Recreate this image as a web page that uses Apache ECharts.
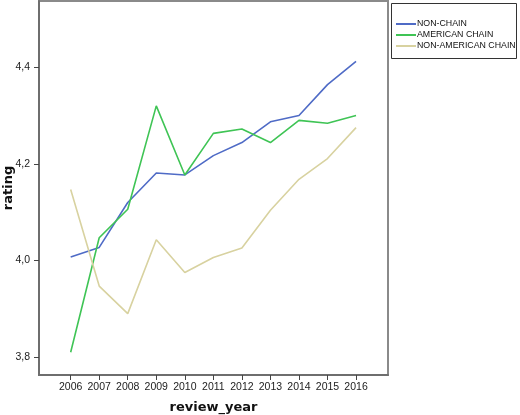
<!DOCTYPE html>
<html>
<head>
<meta charset="utf-8">
<script src="https://cdn.jsdelivr.net/npm/echarts@6/dist/echarts.min.js"></script>
<style>
  html, body { margin: 0; padding: 0; background: #fff; }
  #chart { width: 520px; height: 415px; }
</style>
</head>
<body>
<div id="chart"></div>
<script>
const years = [2006, 2007, 2008, 2009, 2010, 2011, 2012, 2013, 2014, 2015, 2016];
const nonChain = [4.007, 4.027, 4.120, 4.181, 4.177, 4.217, 4.244, 4.287, 4.300, 4.364, 4.412];
const americanChain = [3.810, 4.047, 4.106, 4.320, 4.177, 4.263, 4.272, 4.244, 4.290, 4.284, 4.300];
const nonAmericanChain = [4.147, 3.947, 3.890, 4.043, 3.975, 4.006, 4.026, 4.104, 4.168, 4.211, 4.275];
const yTicks = [3.8, 4.0, 4.2, 4.4];

const chart = echarts.init(document.getElementById('chart'));

// pair each value with its year for the value x axis
const pts = (vals) => vals.map((v, i) => [years[i], v]);

const sans = "'Liberation Sans', Arial, sans-serif";
const lineBase = { type: 'line', symbol: 'none', smooth: false, lineStyle: { width: 1.6 } };
const labelFont = { color: '#222', fontSize: 10.5, fontFamily: sans };
const frame = { show: true, lineStyle: { color: '#6e6e6e', width: 2 } };

chart.setOption({
  animation: false,
  grid: {
    left: 39, top: 1, right: 132, bottom: 40,
    outerBoundsMode: 'none', containLabel: false,
    show: true, borderColor: '#8a8a8a', borderWidth: 2
  },
  legend: {
    orient: 'vertical',
    left: 396,
    top: 19,
    padding: 0,
    itemGap: 1,
    itemWidth: 20,
    itemHeight: 2,
    icon: 'rect',
    textStyle: { fontSize: 8.8, lineHeight: 10, color: '#111', fontFamily: sans, padding: [0, 0, 0, -4] },
    data: ['NON-CHAIN', 'AMERICAN CHAIN', 'NON-AMERICAN CHAIN']
  },
  graphic: [
    { type: 'rect', shape: { x: 391.5, y: 3.5, width: 125, height: 55 }, style: { fill: '#fff', stroke: '#333', lineWidth: 1 }, z: -1 }
  ],
  xAxis: {
    type: 'value',
    min: 2004.89,
    max: 2017.12,
    name: 'review_year',
    nameLocation: 'middle',
    nameGap: 26,
    nameMoveOverlap: false,
    nameTextStyle: { fontSize: 13, fontWeight: 'bold', color: '#111', fontFamily: "'DejaVu Sans', Verdana, sans-serif" },
    axisLine: frame,
    axisTick: { show: true, length: 5, customValues: years, lineStyle: { color: '#444' } },
    axisLabel: { ...labelFont, margin: 7, customValues: years, formatter: (v) => String(v) },
    splitLine: { show: false }
  },
  yAxis: {
    type: 'value',
    min: 3.763,
    max: 4.537,
    name: 'rating',
    nameLocation: 'middle',
    nameRotate: 90,
    nameGap: 24,
    nameMoveOverlap: false,
    nameTextStyle: { fontSize: 13, fontWeight: 'bold', color: '#111', fontFamily: "'DejaVu Sans', Verdana, sans-serif" },
    axisLine: frame,
    axisTick: { show: true, length: 5, customValues: yTicks, lineStyle: { color: '#444' } },
    axisLabel: { ...labelFont, margin: 9, customValues: yTicks, formatter: (v) => v.toFixed(1).replace('.', ',') },
    splitLine: { show: false }
  },
  series: [
    { ...lineBase, name: 'NON-CHAIN', color: '#4f6bc6', data: pts(nonChain) },
    { ...lineBase, name: 'AMERICAN CHAIN', color: '#3fc455', data: pts(americanChain) },
    { ...lineBase, name: 'NON-AMERICAN CHAIN', color: '#d8d2a0', data: pts(nonAmericanChain) }
  ]
});
</script>
</body>
</html>
